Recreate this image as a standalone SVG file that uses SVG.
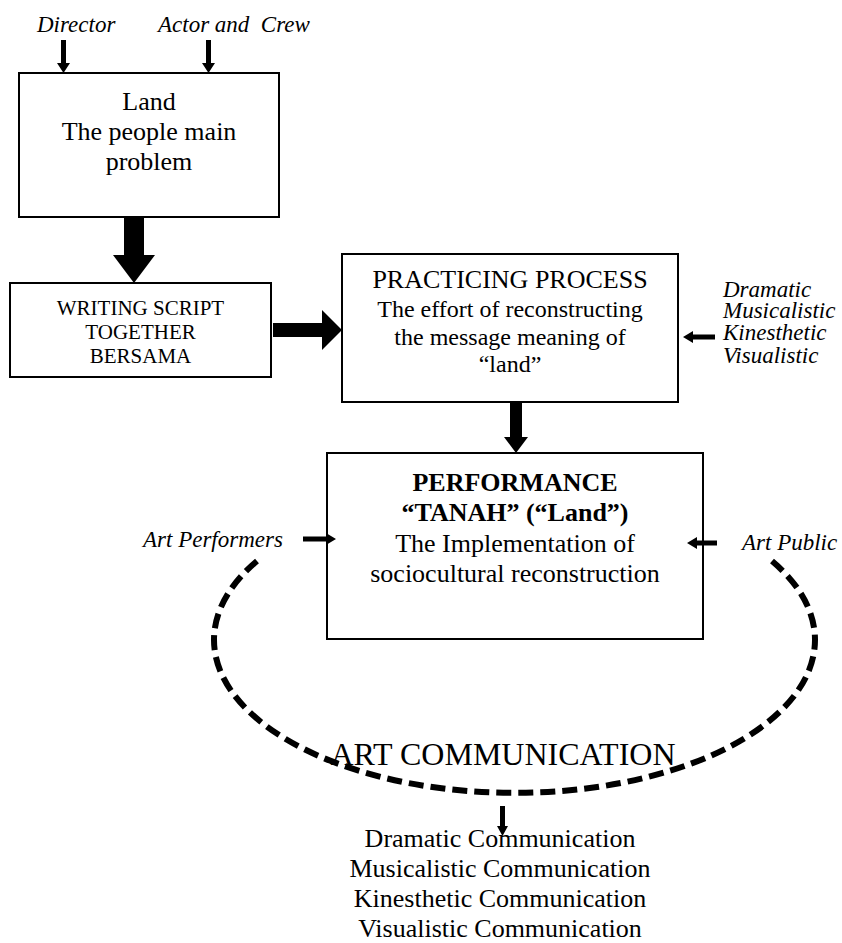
<svg xmlns="http://www.w3.org/2000/svg" width="842" height="943" viewBox="0 0 842 943">
<style>
  .box { fill: #fff; stroke: #000; stroke-width: 2; }
  .t { font-family: "Liberation Serif", "Times New Roman", serif; fill: #000; text-anchor: middle; }
  .it { font-family: "Liberation Serif", "Times New Roman", serif; font-style: italic; fill: #000; font-size: 23px; }
  .arr { fill: #000; stroke: none; }
  .dash { fill: none; stroke: #000; stroke-width: 6; stroke-dasharray: 15 7; }
</style>
<rect width="842" height="943" fill="#fff"/>

<g id="label-director">
  <text class="it" x="37" y="32">Director</text>
</g>
<g id="label-actor-crew">
  <text class="it" x="158" y="32" style="white-space:pre">Actor and  Crew</text>
</g>

<g id="node-land">
  <rect class="box" x="19" y="73" width="260" height="144"/>
  <text class="t" font-size="26" x="149" y="110">Land</text>
  <text class="t" font-size="26" x="149" y="140">The people main</text>
  <text class="t" font-size="26" x="149" y="170">problem</text>
</g>

<g id="node-writing">
  <rect class="box" x="10" y="283" width="261" height="94"/>
  <text class="t" font-size="21" x="140.5" y="315">WRITING SCRIPT</text>
  <text class="t" font-size="21" x="140.5" y="339">TOGETHER</text>
  <text class="t" font-size="21" x="140.5" y="363">BERSAMA</text>
</g>

<g id="node-practicing">
  <rect class="box" x="342" y="254" width="336" height="148"/>
  <text class="t" font-size="26" x="510" y="288">PRACTICING PROCESS</text>
  <text class="t" font-size="24" x="510" y="317">The effort of reconstructing</text>
  <text class="t" font-size="24" x="510" y="345">the message meaning of</text>
  <text class="t" font-size="24" x="510" y="372">“land”</text>
</g>

<g id="label-modes">
  <text class="it" x="723" y="297">Dramatic</text>
  <text class="it" x="723" y="318">Musicalistic</text>
  <text class="it" x="723" y="340">Kinesthetic</text>
  <text class="it" x="723" y="363">Visualistic</text>
</g>

<g id="node-performance">
  <rect class="box" x="327" y="453" width="376" height="186"/>
  <text class="t" font-size="26" font-weight="bold" x="515" y="491">PERFORMANCE</text>
  <text class="t" font-size="26" font-weight="bold" x="515" y="521">“TANAH” (“Land”)</text>
  <text class="t" font-size="26" x="515" y="552">The Implementation of</text>
  <text class="t" font-size="26" x="515" y="582">sociocultural reconstruction</text>
</g>

<g id="label-art-performers">
  <text class="it" x="143" y="547">Art Performers</text>
</g>
<g id="label-art-public">
  <text class="it" x="742" y="550">Art Public</text>
</g>

<g id="node-art-communication">
  <path class="dash" d="M 257 561 A 300.5 153 0 1 0 772 561"/>
  <text class="t" font-size="32" x="503" y="765">ART COMMUNICATION</text>
</g>

<g id="node-communications">
  <text class="t" font-size="26" x="500" y="847">Dramatic Communication</text>
  <text class="t" font-size="26" x="500" y="877">Musicalistic Communication</text>
  <text class="t" font-size="26" x="500" y="907">Kinesthetic Communication</text>
  <text class="t" font-size="26" x="500" y="937">Visualistic Communication</text>
</g>

<g id="connectors">
  <polygon class="arr" points="61,40 66,40 66,63 70,63 63.5,73 57,63 61,63"/>
  <polygon class="arr" points="206,40 211,40 211,63 215,63 208.5,73 202,63 206,63"/>
  <polygon class="arr" points="124,217 144,217 144,255 155,255 134,283 113,255 124,255"/>
  <polygon class="arr" points="273,323 322,323 322,310 342,330 322,350 322,337 273,337"/>
  <polygon class="arr" points="715,334.5 693,334.5 693,331 683,337 693,343 693,339.5 715,339.5"/>
  <polygon class="arr" points="510,402 522,402 522,437 528,437 516,453 504,437 510,437"/>
  <polygon class="arr" points="303,536.5 326,536.5 326,533 336,539 326,545 326,541.5 303,541.5"/>
  <polygon class="arr" points="717,540.5 697,540.5 697,537 687,543 697,549 697,545.5 717,545.5"/>
  <polygon class="arr" points="500,806 505,806 505,826 508,826 502.5,836 497,826 500,826"/>
</g>
</svg>
